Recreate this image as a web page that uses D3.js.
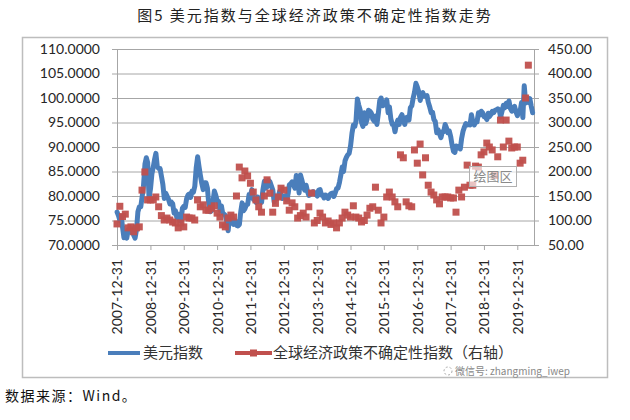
<!DOCTYPE html>
<html><head><meta charset="utf-8">
<script src="https://cdn.jsdelivr.net/npm/d3@7"></script>
<style>
html,body{margin:0;padding:0;background:#fff;}
svg{display:block;}
</style></head>
<body>
<svg id="chart" width="630" height="420"></svg>
<script>
// ---------- DATA ----------
const title = "图5 美元指数与全球经济政策不确定性指数走势";
const source = "数据来源：Wind。";
const seriesNames = ["美元指数", "全球经济政策不确定性指数（右轴）"];
const xTickLabels = ["2007-12-31","2008-12-31","2009-12-31","2010-12-31","2011-12-31","2012-12-31","2013-12-31","2014-12-31","2015-12-31","2016-12-31","2017-12-31","2018-12-31","2019-12-31"];
const leftTicks = [70,75,80,85,90,95,100,105,110];
const rightTicks = [50,100,150,200,250,300,350,400,450];

// US dollar index, semi-monthly (1st & 16th of each month), Jan 2008 - Jun 2020
const dxyStart = [2008, 0];
const dxy = [
 76.7,76.0,75.0,75.8,73.6,71.5,72.3,71.4,73.1,72.8,72.6,73.3,72.0,71.4,73.2,76.8,77.8,77.8,79.8,82.0,86.5,87.8,86.8,79.5,
 81.5,84.5,86.0,87.6,88.7,86.0,85.6,85.6,84.0,82.4,79.5,80.6,80.0,79.4,78.4,78.8,78.4,76.5,77.0,75.6,76.3,75.2,74.9,77.5,
 77.9,77.7,79.5,80.2,80.4,79.7,81.0,80.8,82.0,85.7,88.0,86.0,84.2,82.6,81.3,82.7,82.7,81.6,78.3,76.8,77.0,78.8,81.0,80.2,
 79.0,78.9,77.0,78.0,76.6,76.3,76.0,74.8,72.9,75.6,74.4,75.6,74.2,75.0,74.0,73.9,74.2,76.8,78.6,77.0,77.4,78.2,78.3,80.3,
 80.2,81.3,79.3,79.4,78.7,79.8,78.9,79.6,78.7,81.3,83.0,81.6,81.9,83.2,82.9,82.1,81.2,78.8,79.9,79.4,80.0,81.0,80.2,79.5,
 79.6,80.0,79.2,80.5,82.3,82.5,82.9,82.2,81.6,84.2,83.2,80.6,84.3,83.3,82.0,81.2,82.2,80.9,80.1,80.3,80.7,80.9,80.7,80.3,
 80.0,81.2,81.3,80.2,80.2,79.6,80.2,79.8,79.5,80.2,80.5,80.6,79.9,80.6,81.5,81.6,82.8,84.3,85.9,85.0,87.2,87.9,88.4,88.7,
 90.3,92.8,94.5,94.2,95.3,99.8,98.5,97.5,95.0,94.2,97.0,94.8,95.7,97.5,97.3,96.9,95.7,95.3,96.3,94.6,96.9,99.5,100.0,98.4,
 98.6,99.0,99.6,97.0,98.2,95.8,94.6,94.6,93.1,94.6,95.5,94.6,96.1,96.6,95.5,94.6,96.0,96.1,95.5,98.0,98.4,100.0,101.2,103.0,
 102.2,101.3,99.5,100.9,101.1,100.4,100.4,100.5,99.1,98.2,97.0,97.1,95.6,95.2,92.9,93.5,92.7,91.9,93.1,93.1,94.6,93.9,92.9,93.3,
 92.1,90.4,89.1,88.9,90.2,89.8,90.1,89.6,91.8,93.2,94.1,94.8,94.5,94.6,94.5,96.6,95.1,94.5,95.1,95.1,97.0,96.5,97.3,97.0,
 96.2,96.1,95.6,96.9,96.2,96.6,97.3,97.0,97.5,97.6,97.8,97.6,96.1,97.2,98.5,98.0,98.9,98.3,99.4,97.9,97.3,98.0,98.3,97.2,
 96.4,97.3,97.4,99.1,96.0,102.5,99.0,99.8,99.1,99.9,98.3,97.0
];

// Global economic policy uncertainty index, monthly (month end), Dec 2007 - Apr 2020
const gepuStart = [2007, 11];
const gepu = [
 93,
 129,108,113,85,87,77,85,87,162,199,142,142,
 142,148,128,110,101,105,101,97,95,85,95,87,
 107,105,105,101,142,128,132,121,121,125,130,115,
 107,91,87,105,111,107,150,209,187,201,191,176,
 158,142,128,117,150,183,156,117,135,148,166,162,
 140,121,136,128,105,110,115,107,128,156,95,100,
 115,107,95,99,92,95,85,95,105,117,111,107,
 130,107,105,97,100,111,125,128,168,121,95,107,
 148,158,148,138,128,234,228,138,130,128,244,217,
 256,193,228,172,158,152,142,134,148,148,148,146,
 146,117,162,148,168,213,172,172,211,209,234,240,
 258,250,244,192,230,305,250,305,262,248,250,250,
 217,223,350,417
];

// ---------- CHART ----------
const svg = d3.select("#chart");
const L = 117, R = 534, T = 49, B = 245;
const blue = "#4a7ebb", red = "#c0504d", grid = "#a6a6a6";
const numFont = "Lato, 'Liberation Sans', sans-serif";
const cjkFont = "'Noto Sans CJK SC', sans-serif";

const dxyData = dxy.map((v,i)=>({d:new Date(dxyStart[0], dxyStart[1]+Math.floor(i/2), i%2 ? 16 : 1), v}));
const gepuData = gepu.map((v,i)=>({d:new Date(gepuStart[0], gepuStart[1]+i+1, 0), v}));
const xTickDates = xTickLabels.map(s=>d3.timeParse("%Y-%m-%d")(s));

const x = d3.scaleTime().domain([new Date(2007,11,31), new Date(2020,6,1)]).range([L,R]);
const yL = d3.scaleLinear().domain([70,110]).range([B,T]);
const yR = d3.scaleLinear().domain([50,450]).range([B,T]);

// title
svg.append("text").attr("x",315).attr("y",21).attr("text-anchor","middle")
  .attr("font-family",cjkFont).attr("font-size",15).attr("letter-spacing",2)
  .attr("fill","#222").text(title);

// frame
svg.append("rect").attr("x",22.5).attr("y",37.5).attr("width",585).attr("height",340)
  .attr("fill","#fff").attr("stroke","#bdbdbd").attr("stroke-width",1.5);

// gridlines
svg.append("g").attr("transform",`translate(${L},0)`)
  .call(d3.axisLeft(yL).tickValues(leftTicks).tickSize(-(R-L)).tickFormat(""))
  .call(g=>g.select(".domain").remove())
  .call(g=>g.selectAll("line").attr("stroke",grid).attr("stroke-width",1));

// left axis
const gl = svg.append("g").attr("transform",`translate(${L},0)`)
  .call(d3.axisLeft(yL).tickValues(leftTicks).tickSize(5).tickPadding(12).tickFormat(d=>d.toFixed(4)));
gl.select(".domain").attr("stroke",grid);
gl.selectAll("line").attr("stroke",grid);
gl.selectAll("text").attr("font-family",numFont).attr("font-size",14).attr("fill","#262626");

// right axis
const gr = svg.append("g").attr("transform",`translate(${R},0)`)
  .call(d3.axisRight(yR).tickValues(rightTicks).tickSize(5).tickPadding(9).tickFormat(d=>d.toFixed(2)));
gr.select(".domain").attr("stroke",grid);
gr.selectAll("line").attr("stroke",grid);
gr.selectAll("text").attr("font-family",numFont).attr("font-size",14).attr("fill","#262626");

// bottom axis
const gb = svg.append("g").attr("transform",`translate(0,${B})`)
  .call(d3.axisBottom(x).tickValues(xTickDates).tickSize(5).tickSizeOuter(0).tickFormat(d3.timeFormat("%Y-%m-%d")));
gb.select(".domain").attr("stroke",grid);
gb.selectAll("line").attr("stroke",grid);
gb.selectAll("text").attr("font-family",numFont).attr("font-size",14).attr("fill","#262626")
  .attr("text-anchor","end").attr("transform","rotate(-90)")
  .attr("x",-14).attr("y",0).attr("dy","0.35em");

// blue line
svg.append("path").datum(dxyData)
  .attr("fill","none").attr("stroke",blue).attr("stroke-width",5)
  .attr("stroke-linejoin","round").attr("stroke-linecap","round")
  .attr("d",d3.line().x(d=>x(d.d)).y(d=>yL(d.v)));

// red squares
const ms = 7;
svg.append("g").selectAll("rect").data(gepuData).join("rect")
  .attr("x",d=>x(d.d)-ms/2).attr("y",d=>yR(d.v)-ms/2)
  .attr("width",ms).attr("height",ms).attr("fill",red).attr("opacity",0.95);

// "绘图区" tooltip box
svg.append("rect").attr("x",469.5).attr("y",166.5).attr("width",47).attr("height",20)
  .attr("fill","#fff").attr("fill-opacity",0.65).attr("stroke","#b0b0b0").attr("stroke-width",1);
svg.append("text").attr("x",493).attr("y",181).attr("text-anchor","middle")
  .attr("font-family",cjkFont).attr("font-size",13).attr("fill","#8a8a8a").text("绘图区");

// legend
const ly = 353;
svg.append("line").attr("x1",108).attr("x2",140).attr("y1",ly).attr("y2",ly)
  .attr("stroke",blue).attr("stroke-width",4);
svg.append("text").attr("x",143).attr("y",ly).attr("dy","0.36em")
  .attr("font-family",cjkFont).attr("font-size",15).attr("fill","#333").text(seriesNames[0]);
svg.append("line").attr("x1",235).attr("x2",272).attr("y1",ly).attr("y2",ly)
  .attr("stroke",red).attr("stroke-width",4);
svg.append("rect").attr("x",250).attr("y",ly-3.5).attr("width",7).attr("height",7).attr("fill",red);
svg.append("text").attr("x",273).attr("y",ly).attr("dy","0.36em")
  .attr("font-family",cjkFont).attr("font-size",15).attr("fill","#333").text(seriesNames[1]);
// watermark (placed just under the legend line)
svg.append("circle").attr("cx",448).attr("cy",371).attr("r",4)
  .attr("fill","none").attr("stroke","#aaa").attr("stroke-dasharray","2,2");
svg.append("text").attr("x",455).attr("y",371).attr("dy","0.36em")
  .attr("font-family",cjkFont).attr("font-size",10).attr("fill","#888").text("微信号: zhangming_iwep");

// source
svg.append("text").attr("x",5).attr("y",401)
  .attr("font-family",cjkFont).attr("font-size",14).attr("letter-spacing",1.5).attr("fill","#111").text(source);
</script>
</body></html>
